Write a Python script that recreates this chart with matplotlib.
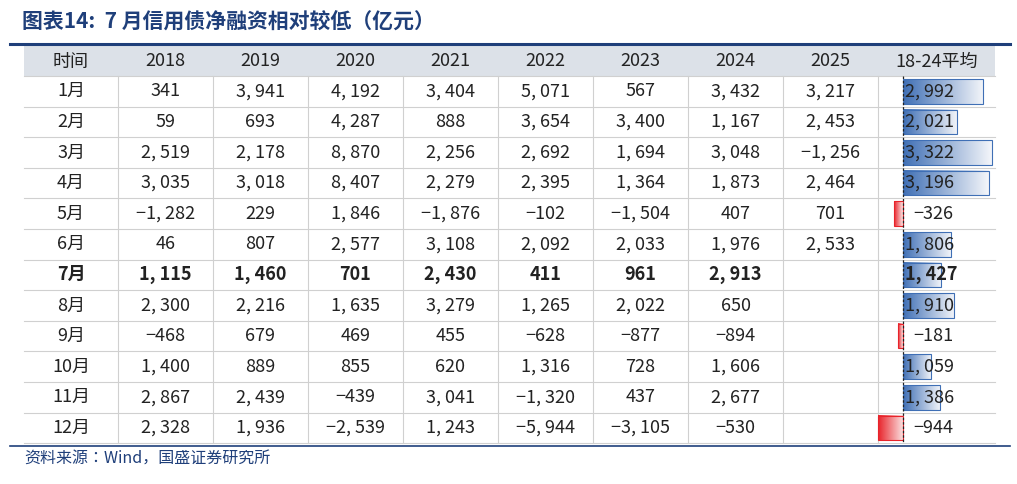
import matplotlib
matplotlib.use("Agg")
import matplotlib.pyplot as plt
from matplotlib import font_manager as fm
import numpy as np

months = ["1月","2月","3月","4月","5月","6月","7月","8月","9月","10月","11月","12月"]
years = ["2018","2019","2020","2021","2022","2023","2024","2025"]
v2018 = [341,59,2519,3035,-1282,46,1115,2300,-468,1400,2867,2328]
v2019 = [3941,693,2178,3018,229,807,1460,2216,679,889,2439,1936]
v2020 = [4192,4287,8870,8407,1846,2577,701,1635,469,855,-439,-2539]
v2021 = [3404,888,2256,2279,-1876,3108,2430,3279,455,620,3041,1243]
v2022 = [5071,3654,2692,2395,-102,2092,411,1265,-628,1316,-1320,-5944]
v2023 = [567,3400,1694,1364,-1504,2033,961,2022,-877,728,437,-3105]
v2024 = [3432,1167,3048,1873,407,1976,2913,650,-894,1606,2677,-530]
v2025 = [3217,2453,-1256,2464,701,2533,None,None,None,None,None,None]
avg = [2992,2021,3322,3196,-326,1806,1427,1910,-181,1059,1386,-944]
series = [v2018,v2019,v2020,v2021,v2022,v2023,v2024,v2025]

for f in fm.findSystemFonts():
    if "CJK" in f or "cjk" in f.lower():
        try:
            fm.fontManager.addfont(f)
        except Exception:
            pass
names = set(f.name for f in fm.fontManager.ttflist)
cjk = [n for n in ["Noto Sans CJK SC","Noto Sans CJK JP","Noto Sans CJK TC","Noto Sans CJK KR"] if n in names]
plt.rcParams["font.family"] = cjk + ["DejaVu Sans"]

fig = plt.figure(figsize=(10.17,4.84), dpi=100)
ax = fig.add_axes([0,0,1,1])
ax.set_xlim(0,1017); ax.set_ylim(484,0); ax.axis("off")

def fmt(v):
    if v is None: return ""
    s = f"{abs(v):,}".replace(",", ", ")
    return ("−" if v < 0 else "") + s

x0, cw, lw = 24, 95, 94
xa = x0 + lw + 8*cw
xend = 995
hy, hh = 45, 31
rh = 30.6
ry0 = hy + hh

ax.text(22, 22, "图表14:  7 月信用债净融资相对较低（亿元）", fontsize=15, fontweight="bold",
        style="italic", color="#1F3F7A", va="center")
ax.plot([10,1010],[44,44], color="#1F3F7A", lw=2.2)
ax.add_patch(plt.Rectangle((x0,hy+1), xend-x0, hh-1, color="#DCE1E8", lw=0))
hdr = ["时间"] + years + ["18-24平均"]
centers = [x0+lw/2] + [x0+lw+cw*i+cw/2 for i in range(8)] + [(xa+xend)/2]
for c, t in zip(centers, hdr):
    ax.text(c, hy+hh/2+1, t, ha="center", va="center", fontsize=13, color="#222")

for i in range(13):
    y = ry0 + i*rh
    ax.plot([x0, xend],[y,y], color="#D0D0D0", lw=0.8)
for xb in [x0+lw+cw*i for i in range(9)]:
    ax.plot([xb,xb],[ry0, ry0+12*rh], color="#D0D0D0", lw=0.8)

zero = xa + 25
scale = 89/3322.0
blue = matplotlib.colors.LinearSegmentedColormap.from_list("b", ["#3F6FB5", "#F4F6FA"])
red = matplotlib.colors.LinearSegmentedColormap.from_list("r", ["#E8232A", "#FBE6E6"])
grad = np.linspace(0,1,256).reshape(1,-1)

for r, m in enumerate(months):
    yc = ry0 + r*rh + rh/2
    bold = "bold" if r == 6 else "normal"
    ax.text(centers[0], yc, m, ha="center", va="center", fontsize=13, color="#222", fontweight=bold)
    for j, s in enumerate(series):
        ax.text(centers[j+1], yc, fmt(s[r]), ha="center", va="center", fontsize=13,
                color="#222", fontweight=bold)
    a = avg[r]
    w = a*scale
    y1, y2 = yc - rh/2 + 3, yc + rh/2 - 3
    if a >= 0:
        ax.imshow(grad, cmap=blue, extent=(zero, zero+w, y2, y1), aspect="auto", zorder=2)
        ax.add_patch(plt.Rectangle((zero,y1), w, y2-y1, fill=False, ec="#3F6FB5", lw=0.8, zorder=3))
    else:
        ax.imshow(grad, cmap=red, extent=(zero+w, zero, y2, y1), aspect="auto", zorder=2)
        ax.add_patch(plt.Rectangle((zero+w,y1), -w, y2-y1, fill=False, ec="#E8232A", lw=0.8, zorder=3))
    tx = zero + 2 if a >= 0 else zero + 10
    ax.text(tx, yc, fmt(a), ha="left", va="center", fontsize=13, color="#222", fontweight=bold, zorder=4)
ax.plot([zero,zero],[ry0, ry0+12*rh], color="#222", lw=0.9, ls=(0,(2,1.5)), zorder=5)
ax.set_xlim(0,1017); ax.set_ylim(484,0)

ax.plot([10,1010],[446,446], color="#1F3F7A", lw=1.2)
ax.text(24, 459, "资料来源：Wind，国盛证券研究所", fontsize=11.5, style="italic", color="#1F3F7A", va="center")
fig.savefig("out.png", dpi=100)
